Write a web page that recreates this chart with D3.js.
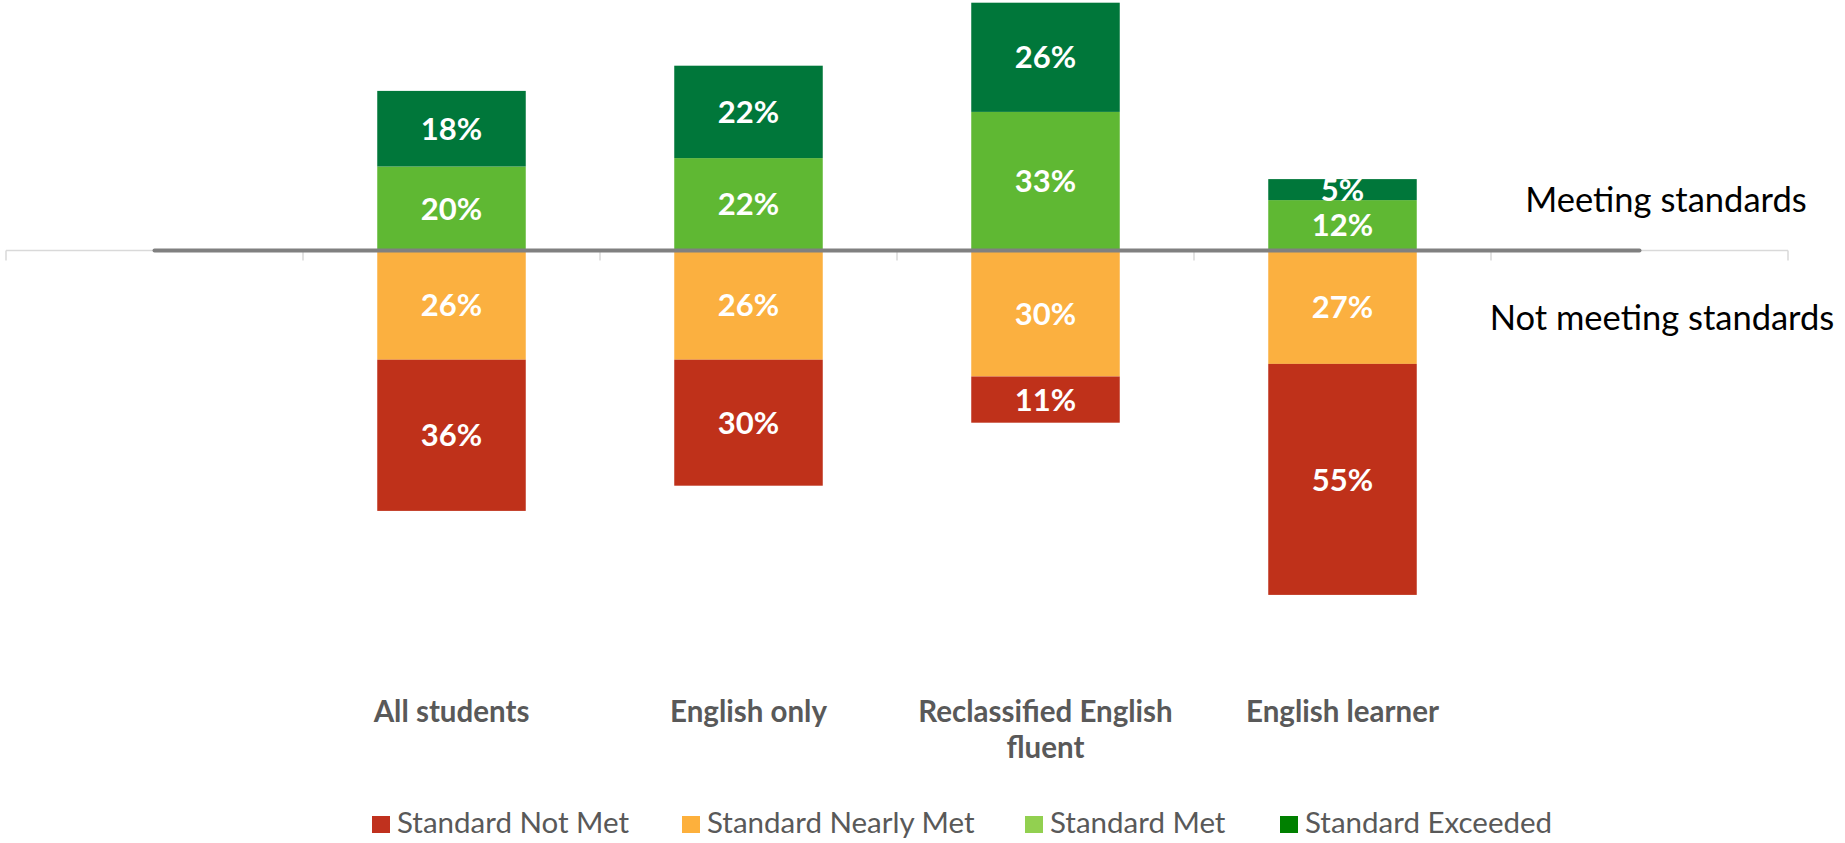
<!DOCTYPE html>
<html>
<head>
<meta charset="utf-8">
<script src="https://cdn.jsdelivr.net/npm/d3@7"></script>
<style>
  body { margin: 0; background: #fff; }
  svg { display: block; font-family: Lato, "Open Sans", sans-serif; }
</style>
</head>
<body>
<svg></svg>
<script>
// DATA
const categories = ["All students", "English only", "Reclassified English fluent", "English learner"];
const notMet    = [36, 30, 11, 55];
const nearlyMet = [26, 26, 30, 27];
const met       = [20, 22, 33, 12];
const exceeded  = [18, 22, 26, 5];
const seriesNames = ["Standard Not Met", "Standard Nearly Met", "Standard Met", "Standard Exceeded"];
const sideLabels = ["Meeting standards", "Not meeting standards"];

// PAGE SETUP
const width = 1845, height = 843;
const svg = d3.select("svg").attr("width", width).attr("height", height);

// the chart has an empty slot on each side of the four groups
const x = d3.scaleBand()
  .domain(d3.range(categories.length + 2))
  .range([6, 1788])
  .paddingInner(0.5)
  .paddingOuter(0.25);
const step = x.step();
const edge = i => x.range()[0] + i * step;

const y = d3.scaleLinear().domain([-100, 60]).range([670.5, -1.5]);

const barColors = ["#BF311A", "#FBB040", "#5FB833", "#00773A"];
const legendColors = ["#C0311E", "#FDB03C", "#92D050", "#008000"];

// build stacked segments: negatives go down from zero, positives go up
let segments = [];
categories.forEach((c, i) => {
  let slot = i + 1;
  segments.push({slot, s: 1, v: nearlyMet[i], y0: -nearlyMet[i], y1: 0});
  segments.push({slot, s: 0, v: notMet[i], y0: -nearlyMet[i] - notMet[i], y1: -nearlyMet[i]});
  segments.push({slot, s: 2, v: met[i], y0: 0, y1: met[i]});
  segments.push({slot, s: 3, v: exceeded[i], y0: met[i], y1: met[i] + exceeded[i]});
});

// light category axis with ticks between groups
svg.append("line")
  .attr("x1", x.range()[0]).attr("x2", x.range()[1])
  .attr("y1", y(0)).attr("y2", y(0))
  .attr("stroke", "#D9D9D9").attr("stroke-width", 1.5);
svg.selectAll(".tick-mark")
  .data(d3.range(categories.length + 3))
  .enter()
  .append("line")
  .attr("class", "tick-mark")
  .attr("x1", d => edge(d)).attr("x2", d => edge(d))
  .attr("y1", y(0)).attr("y2", y(0) + 10)
  .attr("stroke", "#D9D9D9").attr("stroke-width", 1.5);

// bars
svg.selectAll(".seg")
  .data(segments)
  .enter()
  .append("rect")
  .attr("class", "seg")
  .attr("x", d => x(d.slot))
  .attr("width", x.bandwidth())
  .attr("y", d => y(d.y1))
  .attr("height", d => y(d.y0) - y(d.y1))
  .attr("fill", d => barColors[d.s]);

// zero line from the middle of the first empty slot to the middle of the last
svg.append("line")
  .attr("x1", x(0) + x.bandwidth() / 2)
  .attr("x2", x(categories.length + 1) + x.bandwidth() / 2)
  .attr("y1", y(0)).attr("y2", y(0))
  .attr("stroke", "#808080").attr("stroke-width", 4)
  .attr("stroke-linecap", "round");

// data labels
svg.selectAll(".val")
  .data(segments)
  .enter()
  .append("text")
  .attr("class", "val")
  .attr("x", d => x(d.slot) + x.bandwidth() / 2)
  .attr("y", d => (y(d.y0) + y(d.y1)) / 2)
  .attr("dy", "0.36em")
  .attr("text-anchor", "middle")
  .attr("fill", "#fff")
  .attr("font-weight", "bold")
  .attr("font-size", 31)
  .text(d => d.v + "%");

// category labels, wrapped to the slot width
let catLabels = svg.selectAll(".cat")
  .data(categories)
  .enter()
  .append("text")
  .attr("class", "cat")
  .attr("x", (d, i) => x(i + 1) + x.bandwidth() / 2)
  .attr("y", 722)
  .attr("text-anchor", "middle")
  .attr("fill", "#595959")
  .attr("font-weight", "bold")
  .attr("font-size", 29.5)
  .text(d => d);
catLabels.call(wrap, step - 10);

// side labels
svg.selectAll(".side")
  .data(sideLabels)
  .enter()
  .append("text")
  .attr("class", "side")
  .attr("x", (d, i) => i == 0 ? 1666 : 1662)
  .attr("y", (d, i) => i == 0 ? 212 : 330)
  .attr("text-anchor", "middle")
  .attr("fill", "#000")
  .attr("font-size", 34.5)
  .text(d => d);

// legend
const legendX = [372, 682, 1025, 1280];
let legend = svg.selectAll(".legend")
  .data(seriesNames)
  .enter()
  .append("g")
  .attr("class", "legend")
  .attr("transform", (d, i) => `translate(${legendX[i]},816)`);
legend.append("rect")
  .attr("width", 18).attr("height", 17)
  .attr("fill", (d, i) => legendColors[i]);
legend.append("text")
  .attr("x", 25).attr("y", 17)
  .attr("fill", "#595959")
  .attr("font-size", 29.5)
  .text(d => d);

// HELPER FUNCTIONS

function wrap(text, maxWidth) {
  text.each(function() {
    let t = d3.select(this);
    let words = t.text().split(/\s+/);
    let xPos = t.attr("x"), yPos = t.attr("y");
    t.text(null);
    let line = [];
    let tspan = t.append("tspan").attr("x", xPos).attr("y", yPos);
    let lineNo = 0;
    words.forEach(word => {
      line.push(word);
      tspan.text(line.join(" "));
      if (tspan.node().getComputedTextLength() > maxWidth && line.length > 1) {
        line.pop();
        tspan.text(line.join(" "));
        line = [word];
        lineNo++;
        tspan = t.append("tspan").attr("x", xPos).attr("y", +yPos + lineNo * 36).text(word);
      }
    });
  });
}
</script>
</body>
</html>
